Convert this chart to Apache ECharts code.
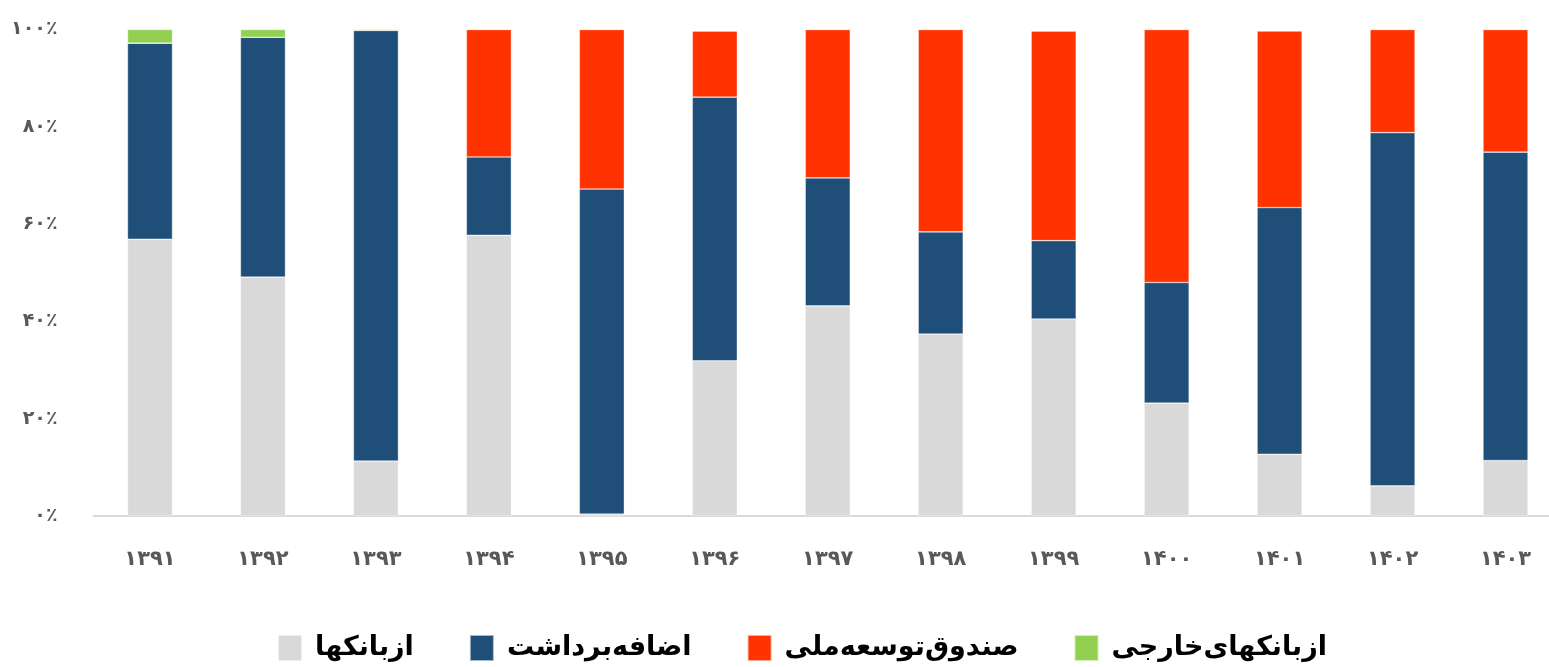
<!DOCTYPE html>
<html>
<head>
<meta charset="utf-8">
<script src="https://cdn.jsdelivr.net/npm/echarts@6/dist/echarts.min.js"></script>
<style>
  html, body { margin: 0; padding: 0; background: #fff; overflow: hidden; }
  #main { width: 1562px; height: 667px; }
</style>
</head>
<body>
<div id="main"></div>
<script>
// سال‌ها
const years = ['1391', '1392', '1393', '1394', '1395', '1396', '1397', '1398', '1399', '1400', '1401', '1402', '1403'];
// سهم هر منبع (درصد)
const fromBanks = [56.9, 49.1, 11.3, 57.7, 0.4, 31.9, 43.2, 37.4, 40.5, 23.2, 12.7, 6.2, 11.4];
const overdraft = [40.3, 49.3, 88.5, 16.1, 66.8, 54.2, 26.3, 21.0, 16.1, 24.8, 50.7, 72.6, 63.4];
const nationalFund = [0, 0, 0, 26.2, 32.8, 13.6, 30.5, 41.6, 43.1, 52.0, 36.3, 21.2, 25.2];
const foreignBanks = [2.8, 1.6, 0.2, 0, 0, 0, 0, 0, 0, 0, 0.1, 0, 0];
const seriesNames = ['ازبانکها', 'اضافه\u200cبرداشت', 'صندوق\u200cتوسعه\u200cملی', 'ازبانکهای\u200cخارجی'];
const colors = ['#d9d9d9', '#1f4e79', '#ff3300', '#92d050'];

// تبدیل ارقام به فارسی
const toFa = s => String(s).replace(/\d/g, d => '۰۱۲۳۴۵۶۷۸۹'[d]);

const myChart = echarts.init(document.getElementById('main'));

const mkSeries = (name, data, i) => ({
  name,
  type: 'bar',
  stack: 'total',
  barWidth: 45,
  data,
  itemStyle: { color: colors[i], borderColor: 'rgba(255,255,255,0.6)', borderWidth: 0.6 }
});

const option = {
  animation: false,
  color: colors,
  textStyle: { fontFamily: 'DejaVu Sans' },
  grid: { left: 93.5, right: 0, top: 29.5, bottom: 151, containLabel: false },
  legend: {
    bottom: 0,
    left: 272,
    itemWidth: 24,
    itemHeight: 26,
    itemGap: 55,
    icon: 'rect',
    textStyle: { fontSize: 27, fontWeight: 'bold', color: '#000', fontFamily: 'DejaVu Sans', padding: [0, 0, 0, 8] },
    data: seriesNames
  },
  xAxis: {
    type: 'category',
    data: years,
    axisLine: { lineStyle: { color: '#d9d9d9', width: 2 } },
    axisTick: { show: false },
    axisLabel: {
      margin: 33,
      fontSize: 21,
      fontWeight: 'bold',
      color: '#595959',
      formatter: v => toFa(v)
    }
  },
  yAxis: {
    type: 'value',
    min: 0,
    max: 100,
    interval: 20,
    splitLine: { show: false },
    axisLine: { show: false },
    axisTick: { show: false },
    axisLabel: {
      margin: 36,
      fontSize: 19,
      fontWeight: 'bold',
      color: '#595959',
      formatter: v => toFa(v) + '٪'
    }
  },
  series: [
    mkSeries(seriesNames[0], fromBanks, 0),
    mkSeries(seriesNames[1], overdraft, 1),
    mkSeries(seriesNames[2], nationalFund, 2),
    mkSeries(seriesNames[3], foreignBanks, 3)
  ]
};

myChart.setOption(option);
</script>
</body>
</html>
